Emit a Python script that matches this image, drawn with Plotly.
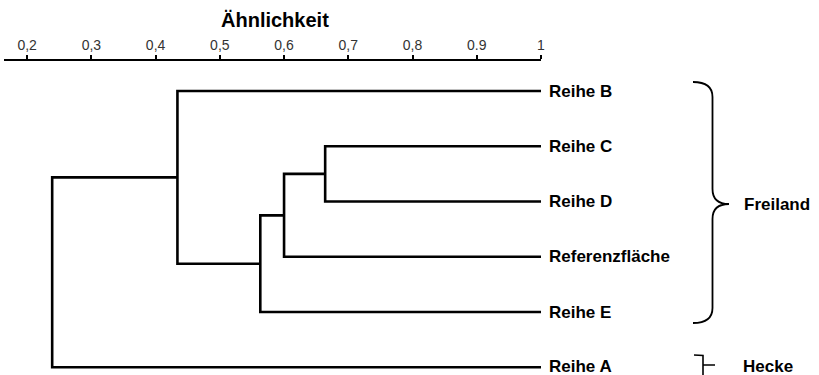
import plotly.graph_objects as go

# ---- data ----
leaf_labels = ["Reihe A", "Reihe E", "Referenzfläche", "Reihe D", "Reihe C", "Reihe B"]  # bottom -> top
merge_a = [4, 6, 7, 5, 9]
merge_b = [3, 2, 1, 8, 0]
merge_similarity = [0.664, 0.600, 0.563, 0.434, 0.239]
tick_vals = [0.2, 0.3, 0.4, 0.5, 0.6, 0.7, 0.8, 0.9, 1.0]
tick_text = ["0,2", "0,3", "0,4", "0,5", "0,6", "0,7", "0,8", "0.9", "1"]
group_labels = ["Freiland", "Hecke"]
axis_title = "Ähnlichkeit"

# ---- layout geometry ----
W, H = 819, 375
ML, MR, MT, MB = 4, 278, 61, 0
PW, PH = W - ML - MR, H - MT - MB
XR = [0.164, 1.0]
YR = [-0.139, 5.543]


def px_x(p):
    return (p - ML) / PW


def px_y(p):
    return (H - MB - p) / PH


FONT = "Liberation Sans, Arial, sans-serif"

# ---- dendrogram coordinates ----
xs = {i: 1.0 for i in range(len(leaf_labels))}
ys = {i: float(i) for i in range(len(leaf_labels))}

fig = go.Figure()
nid = len(leaf_labels)
for a, b, s in zip(merge_a, merge_b, merge_similarity):
    fig.add_trace(go.Scatter(
        x=[xs[a], s, s, xs[b]],
        y=[ys[a], ys[a], ys[b], ys[b]],
        mode="lines",
        line=dict(color="black", width=2.6),
        hoverinfo="skip",
        showlegend=False,
    ))
    xs[nid] = s
    ys[nid] = (ys[a] + ys[b]) / 2
    nid += 1

annotations = []
for i, lab in enumerate(leaf_labels):
    annotations.append(dict(
        x=1.0, y=i, xref="x", yref="y", text=lab, showarrow=False,
        xanchor="left", yanchor="middle", xshift=6, yshift=1 if i == 0 else 0,
        font=dict(family=FONT, size=17, color="black", weight="bold"),
    ))

# axis title
annotations.append(dict(
    x=px_x(274.5), y=px_y(20), xref="paper", yref="paper", text=axis_title,
    showarrow=False, xanchor="center", yanchor="middle",
    font=dict(family=FONT, size=20, color="black", weight="bold"),
))

# group labels
annotations.append(dict(
    x=px_x(742), y=px_y(204), xref="paper", yref="paper", text=group_labels[0],
    showarrow=False, xanchor="left", yanchor="middle",
    font=dict(family=FONT, size=17, color="black", weight="bold"),
))
annotations.append(dict(
    x=px_x(741), y=px_y(366), xref="paper", yref="paper", text=group_labels[1],
    showarrow=False, xanchor="left", yanchor="middle",
    font=dict(family=FONT, size=17, color="black", weight="bold"),
))


def brace_path(x0, xv, xp, ytop, ymid, ybot, r):
    pts = [
        f"M {px_x(x0)} {px_y(ytop)}",
        f"Q {px_x(xv)} {px_y(ytop)} {px_x(xv)} {px_y(ytop + r)}",
        f"L {px_x(xv)} {px_y(ymid - r)}",
        f"Q {px_x(xv)} {px_y(ymid)} {px_x(xp)} {px_y(ymid)}",
        f"Q {px_x(xv)} {px_y(ymid)} {px_x(xv)} {px_y(ymid + r)}",
        f"L {px_x(xv)} {px_y(ybot - r)}",
        f"Q {px_x(xv)} {px_y(ybot)} {px_x(x0)} {px_y(ybot)}",
    ]
    return " ".join(pts)


shapes = [
    dict(type="path", xref="paper", yref="paper",
         path=brace_path(693, 712.5, 729, 82, 204, 323, 15),
         line=dict(color="black", width=1.8)),
    dict(type="path", xref="paper", yref="paper",
         path=(f"M {px_x(694)} {px_y(355)} L {px_x(703)} {px_y(355.5)} "
               f"L {px_x(703)} {px_y(377)} M {px_x(703)} {px_y(365)} L {px_x(715)} {px_y(365)}"),
         line=dict(color="black", width=1.6)),
]

fig.update_layout(
    width=W, height=H,
    margin=dict(l=ML, r=MR, t=MT, b=MB, pad=0),
    plot_bgcolor="white", paper_bgcolor="white",
    xaxis=dict(
        side="top", range=XR, tickvals=tick_vals, ticktext=tick_text,
        ticks="outside", ticklen=4, tickwidth=1.5, tickcolor="black",
        showline=True, linecolor="black", linewidth=1.8,
        showgrid=False, zeroline=False, automargin=False,
        tickfont=dict(family=FONT, size=14, color="#333333"),
    ),
    yaxis=dict(range=YR, visible=False, automargin=False),
    annotations=annotations,
    shapes=shapes,
)

fig.write_html("out.html")
